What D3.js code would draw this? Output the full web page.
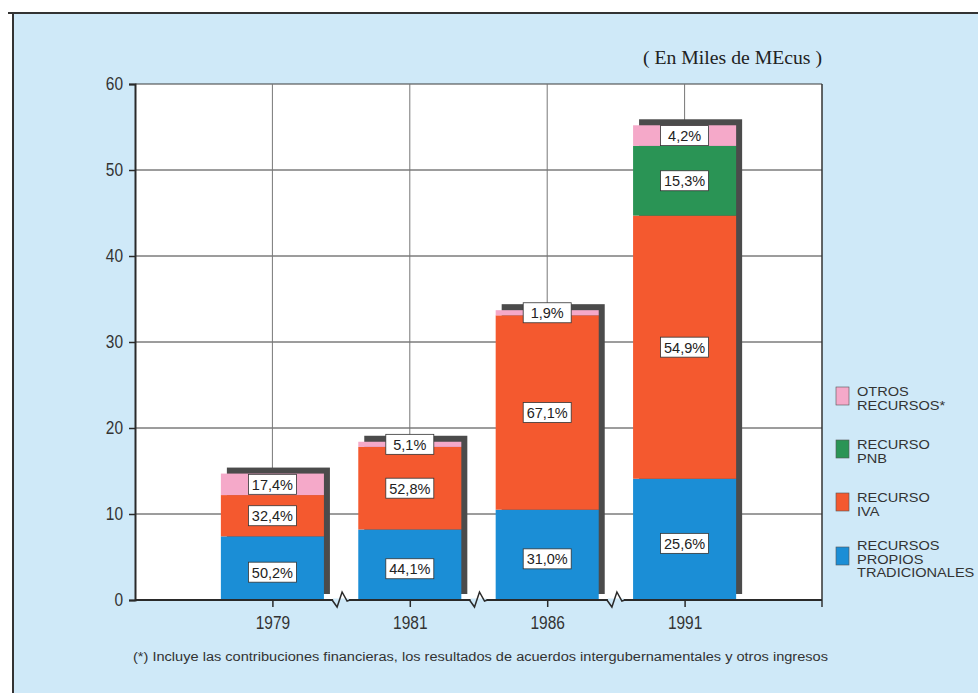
<!DOCTYPE html>
<html>
<head>
<meta charset="utf-8">
<script src="https://cdn.jsdelivr.net/npm/d3@7"></script>
<style>
	body{margin:0;background:#fff;}
	svg{display:block;}
</style>
</head>
<body>
<svg id="chart" width="978" height="693"></svg>
<script>
// datos (miles de MEcus)
var years = ['1979', '1981', '1986', '1991'];
var tradicionales = [7.4, 8.2, 10.5, 14.1];
var iva = [4.8, 9.6, 22.6, 30.6];
var pnb = [0, 0, 0, 8.1];
var otros = [2.5, 0.6, 0.6, 2.4];
var pctTradicionales = ['50,2%', '44,1%', '31,0%', '25,6%'];
var pctIva = ['32,4%', '52,8%', '67,1%', '54,9%'];
var pctPnb = ['', '', '', '15,3%'];
var pctOtros = ['17,4%', '5,1%', '1,9%', '4,2%'];
var yTicks = [0, 10, 20, 30, 40, 50, 60];
var legendLabels = [
	['OTROS', 'RECURSOS*'],
	['RECURSO', 'PNB'],
	['RECURSO', 'IVA'],
	['RECURSOS', 'PROPIOS', 'TRADICIONALES']
];

(function(){
	var keys = ['tradicionales', 'iva', 'pnb', 'otros'];
	var colors = {tradicionales:'#1b8ed6', iva:'#f4592f', pnb:'#2a9455', otros:'#f5a9c9'};
	var pcts = {tradicionales:pctTradicionales, iva:pctIva, pnb:pctPnb, otros:pctOtros};
	var bg = '#cfe9f8';
	var sans = 'Liberation Sans, Arial, sans-serif';

	var rows = years.map(function(y, i){
		return {year:y, tradicionales:tradicionales[i], iva:iva[i], pnb:pnb[i], otros:otros[i], idx:i};
	});

	var svg = d3.select('#chart');
	var pl = 135, pr = 822, pt = 84, pb = 600;

	// marco
	svg.append('rect').attr('x', 13).attr('y', 13).attr('width', 965).attr('height', 680).attr('fill', bg);
	svg.append('line').attr('x1', 8).attr('x2', 978).attr('y1', 13).attr('y2', 13)
		.attr('stroke', '#333').attr('stroke-width', 2);
	svg.append('line').attr('x1', 13).attr('x2', 13).attr('y1', 13).attr('y2', 693)
		.attr('stroke', '#333').attr('stroke-width', 2);

	var x = d3.scalePoint().domain(years).range([pl, pr]).padding(1);
	var y = d3.scaleLinear().domain([0, 60]).range([pb, pt]);
	var step = x.step();
	var bw = step * 0.75;

	// area de trazado
	svg.append('rect').attr('x', pl).attr('y', pt).attr('width', pr - pl).attr('height', pb - pt).attr('fill', '#fff');

	svg.append('g').selectAll('line').data(yTicks.slice(1)).enter().append('line')
		.attr('x1', pl).attr('x2', pr)
		.attr('y1', function(d){ return y(d); }).attr('y2', function(d){ return y(d); })
		.attr('stroke', '#3a3a3a').attr('stroke-width', 1);
	svg.append('g').selectAll('line').data(years).enter().append('line')
		.attr('x1', function(d){ return x(d); }).attr('x2', function(d){ return x(d); })
		.attr('y1', pt).attr('y2', pb)
		.attr('stroke', '#777').attr('stroke-width', 1);
	svg.append('line').attr('x1', pr).attr('x2', pr).attr('y1', pt).attr('y2', pb + 7)
		.attr('stroke', '#333').attr('stroke-width', 1.5);

	// sombras
	var totals = rows.map(function(r){ return r.tradicionales + r.iva + r.pnb + r.otros; });
	svg.append('g').selectAll('rect').data(rows).enter().append('rect')
		.attr('x', function(d){ return x(d.year) - bw / 2 + 6; })
		.attr('y', function(d, i){ return y(totals[i]) - 6; })
		.attr('width', bw)
		.attr('height', function(d, i){ return y(0) - y(totals[i]); })
		.attr('fill', '#4b4b4b');

	// barras
	var stack = d3.stack().keys(keys)(rows);
	var layers = svg.append('g').selectAll('g').data(stack).enter().append('g')
		.attr('fill', function(d){ return colors[d.key]; });
	layers.selectAll('rect').data(function(d){ return d; }).enter().append('rect')
		.attr('x', function(d){ return x(d.data.year) - bw / 2; })
		.attr('y', function(d){ return y(d[1]); })
		.attr('width', bw)
		.attr('height', function(d){ return y(d[0]) - y(d[1]); });

	// etiquetas
	var labels = [];
	stack.forEach(function(layer){
		layer.forEach(function(d){
			var t = pcts[layer.key][d.data.idx];
			if (!t) return;
			var cy = (y(d[0]) + y(d[1])) / 2;
			if (layer.key === 'tradicionales') cy += 4;
			labels.push({x:x(d.data.year), y:cy, text:t});
		});
	});
	var lab = svg.append('g').selectAll('g').data(labels).enter().append('g')
		.attr('transform', function(d){ return 'translate(' + d.x + ',' + d.y + ')'; });
	lab.append('rect').attr('x', -24).attr('y', -10).attr('width', 48).attr('height', 20)
		.attr('fill', '#fff').attr('stroke', '#333').attr('stroke-width', 0.8);
	lab.append('text').attr('text-anchor', 'middle').attr('y', 5.5)
		.attr('font-family', sans).attr('font-size', 14.5)
		.attr('fill', '#222').text(function(d){ return d.text; });

	// ejes
	var yAxis = svg.append('g').attr('transform', 'translate(' + pl + ',0)')
		.call(d3.axisLeft(y).tickValues(yTicks).tickSize(6).tickPadding(6));
	var xAxis = svg.append('g').attr('transform', 'translate(0,' + pb + ')')
		.call(d3.axisBottom(x).tickSize(7).tickPadding(9).tickSizeOuter(0));
	[yAxis, xAxis].forEach(function(a){
		a.select('.domain').attr('stroke', '#2a2a2a').attr('stroke-width', 2);
		a.selectAll('.tick line').attr('stroke', '#2a2a2a').attr('stroke-width', 1.5);
		a.selectAll('text').attr('font-family', sans).attr('font-size', 18).attr('fill', '#333')
			.attr('lengthAdjust', 'spacingAndGlyphs')
			.attr('textLength', function(d){ return String(d).length * 8.6; });
	});
	xAxis.select('.domain').attr('d', 'M' + pl + ',0H' + pr);

	// cortes del eje
	var breaks = years.slice(0, -1).map(function(d){ return x(d) + step / 2; });
	svg.append('g').selectAll('rect').data(breaks).enter().append('rect')
		.attr('x', function(d){ return d - 8; }).attr('y', pb - 1.5).attr('width', 16).attr('height', 3)
		.attr('fill', bg);
	svg.append('g').selectAll('path').data(breaks).enter().append('path')
		.attr('d', function(d){
			return 'M' + (d - 9) + ',' + pb + 'L' + (d - 4) + ',' + (pb + 7) + 'L' + (d + 1) + ',' + (pb - 8) + 'L' + (d + 6) + ',' + (pb + 1) + 'L' + (d + 9) + ',' + pb;
		})
		.attr('fill', 'none').attr('stroke', '#2a2a2a').attr('stroke-width', 1.5);

	// unidades
	svg.append('text').attr('x', 822).attr('y', 64).attr('text-anchor', 'end')
		.attr('font-family', 'Liberation Serif, Times New Roman, serif').attr('font-size', 18)
		.attr('textLength', 179).attr('lengthAdjust', 'spacingAndGlyphs')
		.attr('fill', '#222').text('( En Miles de MEcus )');

	// leyenda
	var legendKeys = ['otros', 'pnb', 'iva', 'tradicionales'];
	var legendY = [396, 449, 502, 550];
	var lineH = 13.5;
	var lg = svg.append('g').selectAll('g').data(legendKeys).enter().append('g')
		.attr('transform', function(d, i){ return 'translate(836,' + legendY[i] + ')'; });
	lg.append('rect').attr('x', 0).attr('y', function(d, i){ return i === 3 ? -3 : -9; })
		.attr('width', 13).attr('height', 18)
		.attr('fill', function(d){ return colors[d]; }).attr('stroke', '#555').attr('stroke-width', 0.6);
	lg.each(function(d, i){
		var g = d3.select(this);
		legendLabels[i].forEach(function(s, j){
			var t = g.append('text').attr('x', 21).attr('y', j * lineH)
				.attr('font-family', sans).attr('font-size', 13).attr('fill', '#333').text(s);
			var w = t.node().getComputedTextLength();
			t.attr('textLength', w * 1.12).attr('lengthAdjust', 'spacingAndGlyphs');
		});
	});

	// nota
	svg.append('text').attr('x', 133).attr('y', 661)
		.attr('font-family', sans).attr('font-size', 12.5)
		.attr('textLength', 695).attr('lengthAdjust', 'spacingAndGlyphs')
		.attr('fill', '#333')
		.text('(*) Incluye las contribuciones financieras, los resultados de acuerdos intergubernamentales y otros ingresos');
})();
</script>
</body>
</html>
